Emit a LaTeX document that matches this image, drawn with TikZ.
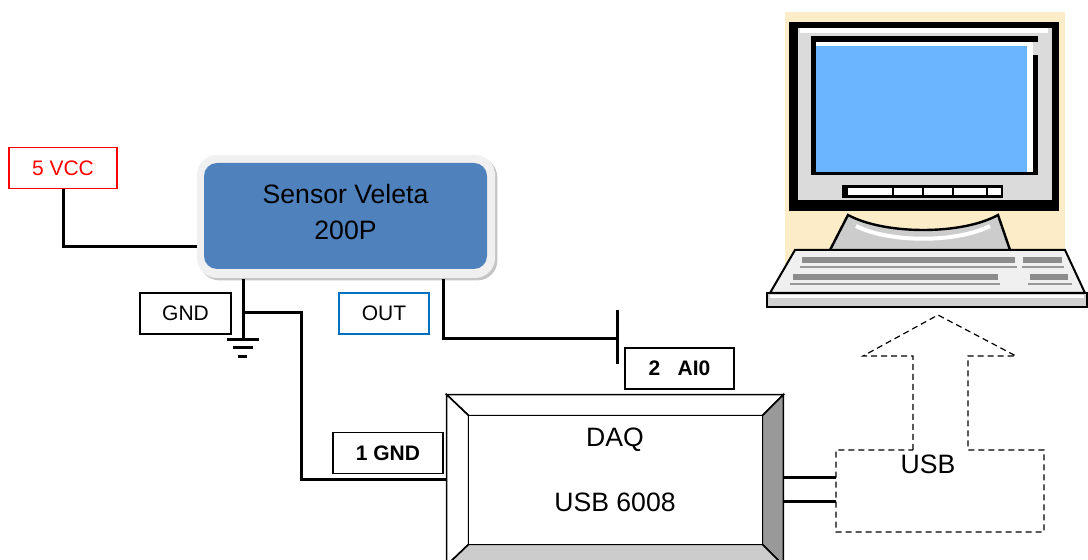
\documentclass[tikz,border=0pt]{standalone}
\usepackage{fontspec}
\setmainfont{Liberation Sans}
\usetikzlibrary{arrows.meta,positioning,shadows}

\definecolor{sensorblue}{RGB}{79,129,189}
\definecolor{screenblue}{RGB}{107,181,255}
\definecolor{deskyellow}{RGB}{253,236,200}
\definecolor{outblue}{RGB}{0,112,192}

\begin{document}
\begin{tikzpicture}[
  x=0.5pt,y=-0.5pt,
  font=\fontsize{10.5}{12.6}\selectfont,
  wire/.style={line width=1.5pt},
  tag/.style={draw, line width=0.7pt, inner sep=0pt, minimum height=20.5pt},
  pin/.style={tag, font=\fontsize{10.5}{12.6}\selectfont\bfseries},
  bigtext/.style={font=\fontsize{13.3}{18}\selectfont},
  usbline/.style={dash pattern=on 3pt off 2pt, line width=0.6pt},
  bevel/.style={draw, line width=0.8pt, line join=miter},
]
\useasboundingbox (0,0) rectangle (1088,560);
\clip (0,0) rectangle (1088,560);

% ---------------- Computer ----------------
\fill[deskyellow] (785,12) rectangle (1065,300);
% monitor
\fill[black] (789,22) rectangle (1059,211);
\fill[black!14] (798,28) rectangle (1052,200);
\fill[white] (800,28) rectangle (1048,33);
\fill[black] (811,36) rectangle (1038,175);
\fill[white] (816,42) rectangle (1033,172);
\fill[black!14] (1033,42) rectangle (1039,55);
\fill[screenblue] (816,46) rectangle (1027,172);
% front buttons
\fill[black] (842,185) rectangle (1003,198);
\fill[white] (848,188) rectangle (1001,195);
\foreach \bx in {893,923,953,987}
  \draw[line width=1pt] (\bx,188) -- (\bx,195);
% stand
\filldraw[fill=black!20, line width=1.2pt] (830,250) -- (848,215)
  .. controls (885,235) and (962,235) .. (998,215) -- (1010,250);
\draw[white, line width=2pt] (856,226) .. controls (890,243) and (956,243) .. (990,226);
% keyboard
\filldraw[fill=black!6, line width=1pt] (795,250) -- (1065,250) -- (1085,293) -- (770,293) -- cycle;
\filldraw[fill=black!18, line width=1pt] (767,293) rectangle (1087,307);
\fill[white] (770,295) rectangle (1084,298);
\fill[black!45] (802,257) rectangle (1015,263);
\fill[black!45] (1023,257) rectangle (1062,263);
\fill[black!45] (793,274) rectangle (998,280);
\fill[black!45] (1030,274) rectangle (1068,280);
\draw[black!40, line width=0.6pt] (800,267) -- (1017,267) (1022,267) -- (1064,267);
\draw[black!40, line width=0.6pt] (790,284) -- (1000,284) (1028,284) -- (1072,284);

% ---------------- USB link ----------------
\draw[usbline] (913,450) -- (913,356) -- (863,356) -- (938,315) -- (1016,356)
  -- (968,356) -- (968,450) -- (1044,450) -- (1044,532) -- (836,532) -- (836,450) -- cycle;
\node[bigtext] (usbtxt) at (928,464) {USB};
\coordinate (usbin1) at (836,478);
\coordinate (usbin2) at (836,502);

% ---------------- Sensor ----------------
\node[fill=black!6, rounded corners=10pt, minimum width=149pt, minimum height=61.5pt,
      drop shadow={shadow xshift=1.2pt, shadow yshift=-1.2pt, fill=black!45}]
      (frame) at (346,216.5) {};
\node[fill=sensorblue, rounded corners=6.5pt, minimum width=141.5pt, minimum height=53pt]
      (sensor) at (345.5,216) {};
\node[align=center, bigtext] (sensortxt) at ([yshift=2pt]sensor.center) {Sensor Veleta\\200P};

\node[tag, draw=red, text=red, minimum width=54pt] (vcc) at (63,168) {5 VCC};
\node[tag, minimum width=45.5pt] (gnd) at (185.5,313.5) {GND};
\node[tag, draw=outblue, minimum width=45pt] (out) at (384,313.5) {OUT};

% ---------------- DAQ ----------------
\node[minimum width=168pt, minimum height=85pt, inner sep=0pt] (daq) at (615,480) {};
\node[minimum width=146.5pt, minimum height=64pt, inner sep=0pt] (daqin) at (615.5,480) {};
\filldraw[bevel, fill=white] (daq.north west) -- (daq.north east) -- (daqin.north east) -- (daqin.north west) -- cycle;
\filldraw[bevel, fill=white] (daq.north west) -- (daqin.north west) -- (daqin.south west) -- (daq.south west) -- cycle;
\filldraw[bevel, fill=black!40] (daq.north east) -- (daq.south east) -- (daqin.south east) -- (daqin.north east) -- cycle;
\filldraw[bevel, fill=black!20] (daq.south west) -- (daqin.south west) -- (daqin.south east) -- (daq.south east) -- cycle;
\draw[bevel, fill=white] (daqin.north west) rectangle (daqin.south east);
\node[bigtext] (daqname) at (615,440) {DAQ};
\node[bigtext] (daqmodel) at (615,502) {USB 6008};

\node[pin, minimum width=54.5pt] (ai0) at (679.5,368.5) {2~~~AI0};
\node[pin, minimum width=55pt] (gnd1) at (388,453) {1 GND};

% ---------------- Wiring ----------------
\coordinate (vccin) at ([yshift=-15pt]frame.west);
\draw[wire] (vcc.south) |- (vccin);

\coordinate (gndtop) at (243,279);
\coordinate (gnd0) at (243,340);
\coordinate (gndtap) at (245,313);
\coordinate (daqgnd) at (daq.west |- gnd1.south);
\draw[wire] (gndtop) -- (gnd0);
\draw[wire] (gnd0) ++(-16,0) -- ++(32,0);
\draw[wire] (gnd0) ++(-10,8) -- ++(20,0);
\draw[wire] (gnd0) ++(-5,17) -- ++(9,0);
\draw[wire] (gndtap) -- ++(56,0) |- ([yshift=-2.5pt]daqgnd);

\coordinate (outtop) at (443,279);
\coordinate (ai0pin) at (617,339);
\draw[wire] (outtop) |- (ai0pin);
\draw[wire] (ai0pin) ++(0,-29) -- ++(0,54);

\draw[wire] (daq.east |- usbin1) -- (usbin1);
\draw[wire] (daq.east |- usbin2) -- (usbin2);

\end{tikzpicture}
\end{document}
